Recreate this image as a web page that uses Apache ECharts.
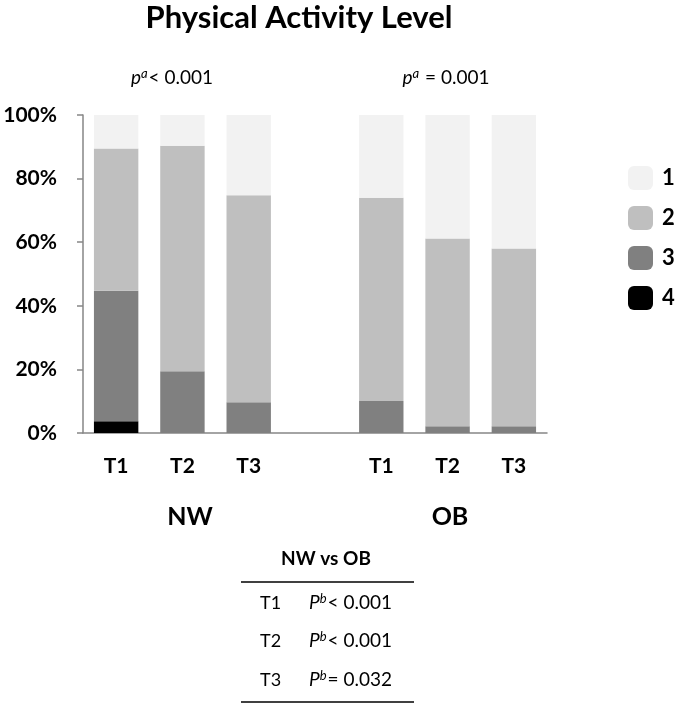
<!DOCTYPE html>
<html>
<head>
<meta charset="utf-8">
<script src="https://cdn.jsdelivr.net/npm/echarts@6/dist/echarts.min.js"></script>
<style>
html,body{margin:0;padding:0;background:#fff;}
#chart{width:685px;height:706px;}
</style>
</head>
<body>
<div id="chart"></div>
<script>
// Categories: NW T1-T3, gap, OB T1-T3
var categories = ['T1', 'T2', 'T3', '', 'T1', 'T2', 'T3'];
var yTicks = ['0%', '20%', '40%', '60%', '80%', '100%'];
// Percent of participants per physical activity level
var level4 = [3.7, 0, 0, null, 0, 0, 0];
var level3 = [41.0, 19.4, 9.7, null, 10.1, 2.1, 2.1];
var level2 = [44.8, 70.9, 65.1, null, 63.9, 59.1, 55.9];
var level1 = [10.5, 9.7, 25.2, null, 26.0, 38.8, 42.0];
var groupLabels = ['NW', 'OB'];
var groupPvals = ['< 0.001', ' = 0.001'];
var tableRows = ['T1', 'T2', 'T3'];
var tablePvals = ['< 0.001', '< 0.001', '= 0.032'];

var FONT = 'Lato, "Liberation Sans", sans-serif';
var colors = {'1': '#f2f2f2', '2': '#bfbfbf', '3': '#808080', '4': '#000000'};

function mkSeries(name, data) {
  return {
    name: name, type: 'bar', stack: 'pa', data: data, barWidth: '67%',
    itemStyle: {color: colors[name]}, emphasis: {disabled: true}
  };
}

var chart = echarts.init(document.getElementById('chart'));
var graphics = [];
graphics.push({type: 'text', x: 299, y: 18, style: {text: 'Physical Activity Level', font: 'bold 31px ' + FONT, fill: '#000', align: 'center', verticalAlign: 'middle'}});
var gCenters = [172, 446];
for (var i = 0; i < 2; i++) {
  graphics.push({type: 'text', x: gCenters[i], y: 78, style: {
    text: '{p|p}{s|a}{n|' + groupPvals[i] + '}',
    align: 'center', verticalAlign: 'middle',
    rich: {
      p: {font: 'italic 19px ' + FONT, fill: '#000'},
      s: {font: 'italic 13px ' + FONT, fill: '#000', padding: [0, 1, 9, 0]},
      n: {font: '19px ' + FONT, fill: '#000'}
    }
  }});
}
var glCenters = [190, 450];
for (var i = 0; i < 2; i++) {
  graphics.push({type: 'text', x: glCenters[i], y: 517, style: {text: groupLabels[i], font: 'bold 25px ' + FONT, fill: '#000', align: 'center', verticalAlign: 'middle'}});
}
graphics.push({type: 'text', x: 326, y: 559, style: {text: 'NW vs OB', font: 'bold 19px ' + FONT, fill: '#000', align: 'center', verticalAlign: 'middle'}});
graphics.push({type: 'line', shape: {x1: 241, y1: 582, x2: 414, y2: 582}, style: {stroke: '#000', lineWidth: 1.5}});
graphics.push({type: 'line', shape: {x1: 241, y1: 702, x2: 414, y2: 702}, style: {stroke: '#000', lineWidth: 1.5}});
var rowY = [603, 641, 680];
for (var i = 0; i < 3; i++) {
  graphics.push({type: 'text', x: 260, y: rowY[i], style: {text: tableRows[i], font: '18px ' + FONT, fill: '#000', verticalAlign: 'middle'}});
  graphics.push({type: 'text', x: 309, y: rowY[i], style: {
    text: '{p|P}{s|b}{n|' + tablePvals[i] + '}', verticalAlign: 'middle',
    rich: {
      p: {font: 'italic 19px ' + FONT, fill: '#000'},
      s: {font: 'italic 13px ' + FONT, fill: '#000', padding: [0, 1, 9, 0]},
      n: {font: '19px ' + FONT, fill: '#000'}
    }
  }});
}

chart.setOption({
  animation: false,
  backgroundColor: '#fff',
  textStyle: {fontFamily: FONT},
  grid: {left: 83, right: 138, top: 115, bottom: 273, containLabel: false},
  legend: {
    data: ['1', '2', '3', '4'], orient: 'vertical', left: 628, top: 166, padding: 0,
    itemWidth: 25, itemHeight: 24, itemGap: 16, icon: 'roundRect', selectedMode: false,
    textStyle: {fontSize: 22, fontWeight: 'bold', color: '#000', fontFamily: FONT, padding: [0, 0, 0, 4]}
  },
  xAxis: {
    type: 'category', data: categories,
    axisLine: {lineStyle: {color: '#868686', width: 1.5}},
    axisTick: {length: 6, lineStyle: {color: '#868686', width: 1.5}},
    axisLabel: {fontSize: 21, fontWeight: 'bold', color: '#000', margin: 23, fontFamily: FONT}
  },
  yAxis: {
    type: 'value', min: 0, max: 100, interval: 20,
    axisLine: {show: true, lineStyle: {color: '#868686', width: 1.5}},
    axisTick: {show: true, length: 6, lineStyle: {color: '#868686', width: 1.5}},
    splitLine: {show: false},
    axisLabel: {fontSize: 21, fontWeight: 'bold', color: '#000', margin: 26, fontFamily: FONT,
      formatter: function (v) { return yTicks[Math.round(v / 20)]; }}
  },
  series: [mkSeries('4', level4), mkSeries('3', level3), mkSeries('2', level2), mkSeries('1', level1)],
  graphic: graphics
});
</script>
</body>
</html>
